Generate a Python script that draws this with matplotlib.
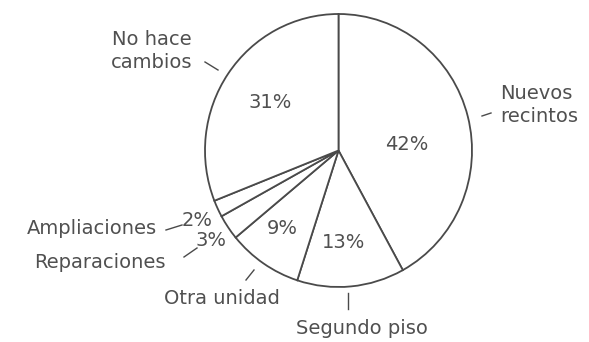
import numpy as np
import matplotlib
matplotlib.use("Agg")
import matplotlib.pyplot as plt

# Reasons for home modifications (share of respondents, %)
categories = ["Nuevos\nrecintos", "Segundo piso", "Otra unidad",
              "Reparaciones", "Ampliaciones", "No hace\ncambios"]
shares = [42, 13, 9, 3, 2, 31]
pct_labels = [f"{v}%" for v in shares]

ink = "#4a4a4a"
text_ink = "#505050"
W, H, DPI = 589, 342, 100
cx, cy = 338.5, 150.5          # pie centre in pixels
rx, ry = 133.5, 136.5          # pixel radii

fig = plt.figure(figsize=(W / DPI, H / DPI), dpi=DPI)
ax = fig.add_axes([0, 0, 1, 1])

ax.pie(shares, startangle=90, counterclock=False, radius=1.0,
       wedgeprops=dict(facecolor="white", edgecolor=ink, linewidth=1.3))

ax.set_aspect("auto")
ax.set_xlim(-cx / rx, (W - cx) / rx)
ax.set_ylim(-(H - cy) / ry, cy / ry)
ax.axis("off")


def px(x, y):
    """pixel position -> data position"""
    return (x - cx) / rx, (cy - y) / ry


font = dict(family="DejaVu Sans", color=text_ink, fontsize=14)

# percentage labels
pct_pos = [(407, 145), (344, 243), (282, 228), (211, 240), (197, 220), (270, 103)]
for txt, (x, y) in zip(pct_labels, pct_pos):
    ax.text(*px(x, y), txt, ha="center", va="center", **font)

# category labels with short leader ticks
cat_pos = [
    ((500, 105), "left"),
    ((362, 329), "center"),
    ((222, 298), "center"),
    ((100, 263), "center"),
    ((92, 228), "center"),
    ((152, 51), "center"),
]
for name, ((x, y), ha) in zip(categories, cat_pos):
    ax.text(*px(x, y), name, ha=ha, va="center", linespacing=1.3, **font)

ticks = [
    ((482, 116), (491, 113)),
    ((348, 293), (348, 309)),
    ((246, 280), (254, 270)),
    ((184, 257), (197, 248)),
    ((166, 230), (182, 225)),
    ((205, 62), (218, 70)),
]
for (x0, y0), (x1, y1) in ticks:
    a, b = px(x0, y0), px(x1, y1)
    ax.plot([a[0], b[0]], [a[1], b[1]], color=ink, linewidth=1.0)

fig.savefig("out.png", dpi=DPI)
